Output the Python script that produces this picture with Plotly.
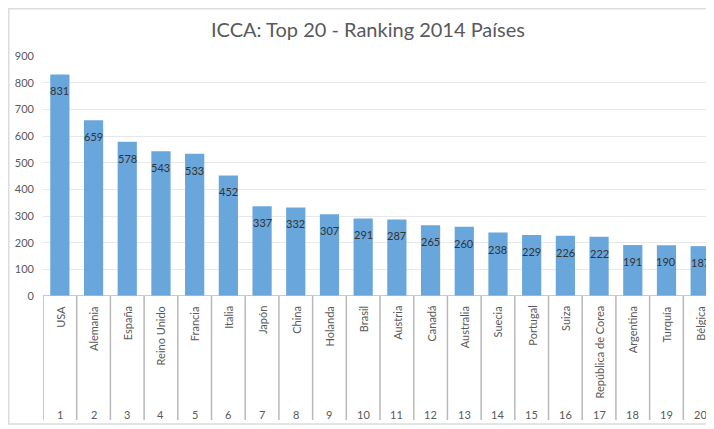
import plotly.graph_objects as go

countries = ["USA", "Alemania", "España", "Reino Unido", "Francia", "Italia", "Japón",
             "China", "Holanda", "Brasil", "Austria", "Canadá", "Australia", "Suecia",
             "Portugal", "Suiza", "República de Corea", "Argentina", "Turquía", "Bélgica"]
ranks = ["1", "2", "3", "4", "5", "6", "7", "8", "9", "10",
         "11", "12", "13", "14", "15", "16", "17", "18", "19", "20"]
values = [831, 659, 578, 543, 533, 452, 337, 332, 307, 291,
          287, 265, 260, 238, 229, 226, 222, 191, 190, 187]
y_ticks = [0, 100, 200, 300, 400, 500, 600, 700, 800, 900]

FONT = "Lato"
GREY = "#595959"
BAR = "#68a6dc"

W, H = 706, 421
L, T, B = 35, 48, 133
PH = H - T - B  # plot height in px
PW = W - L

fig = go.Figure()
fig.add_trace(go.Bar(x=countries, y=values, marker=dict(color=BAR, line=dict(width=0)),
                     width=0.57, hoverinfo="x+y"))

annotations = []
for c, v in zip(countries, values):
    annotations.append(dict(x=c, y=v, xref="x", yref="y", text=str(v), showarrow=False,
                            yanchor="top", yshift=-8,
                            font=dict(family=FONT, size=11, color="#333333")))
    annotations.append(dict(x=c, y=0, xref="x", yref="paper", text=c, showarrow=False,
                            textangle=-90, yanchor="top", yshift=-8,
                            font=dict(family=FONT, size=11, color=GREY)))
for c, r in zip(countries, ranks):
    annotations.append(dict(x=c, y=0, xref="x", yref="paper", text=r, showarrow=False,
                            yanchor="middle", yshift=-118,
                            font=dict(family=FONT, size=11, color=GREY)))

shapes = []
for i in range(len(countries)):
    shapes.append(dict(type="line", xref="x", yref="paper", x0=i - 0.5, x1=i - 0.5,
                       y0=0, y1=-124 / PH, line=dict(color="#b8b8b8", width=1.5)))
shapes.append(dict(type="line", xref="paper", yref="y", x0=0, x1=1, y0=0, y1=0,
                   line=dict(color="#b8b8b8", width=1.5)))
# outer chart border
shapes.append(dict(type="rect", xref="paper", yref="paper",
                   x0=(0.75 - L) / PW, x1=1.02, y0=-128 / PH, y1=(T - 0.75) / PH + 1,
                   line=dict(color="#dcdcdc", width=1.5)))

fig.update_layout(
    width=W, height=H,
    margin=dict(l=L, r=0, t=T, b=B),
    paper_bgcolor="white", plot_bgcolor="white",
    title=dict(text="ICCA: Top 20 - Ranking 2014 Países", x=360 / W, xanchor="center",
               xref="container", y=1 - 22 / H, yanchor="middle",
               font=dict(family=FONT, size=20, color=GREY)),
    xaxis=dict(type="category", range=[-0.5, 19.41], showticklabels=False,
               showgrid=False, zeroline=False, showline=False, fixedrange=True),
    yaxis=dict(range=[0, 900], tickvals=y_ticks, showgrid=True, gridcolor="#e8e8e8",
               gridwidth=1, zeroline=False, showline=False, ticklabelstandoff=8,
               tickfont=dict(family=FONT, size=11, color=GREY), fixedrange=True),
    annotations=annotations, shapes=shapes, showlegend=False, bargap=0.43,
)

fig.write_html("out.html")
